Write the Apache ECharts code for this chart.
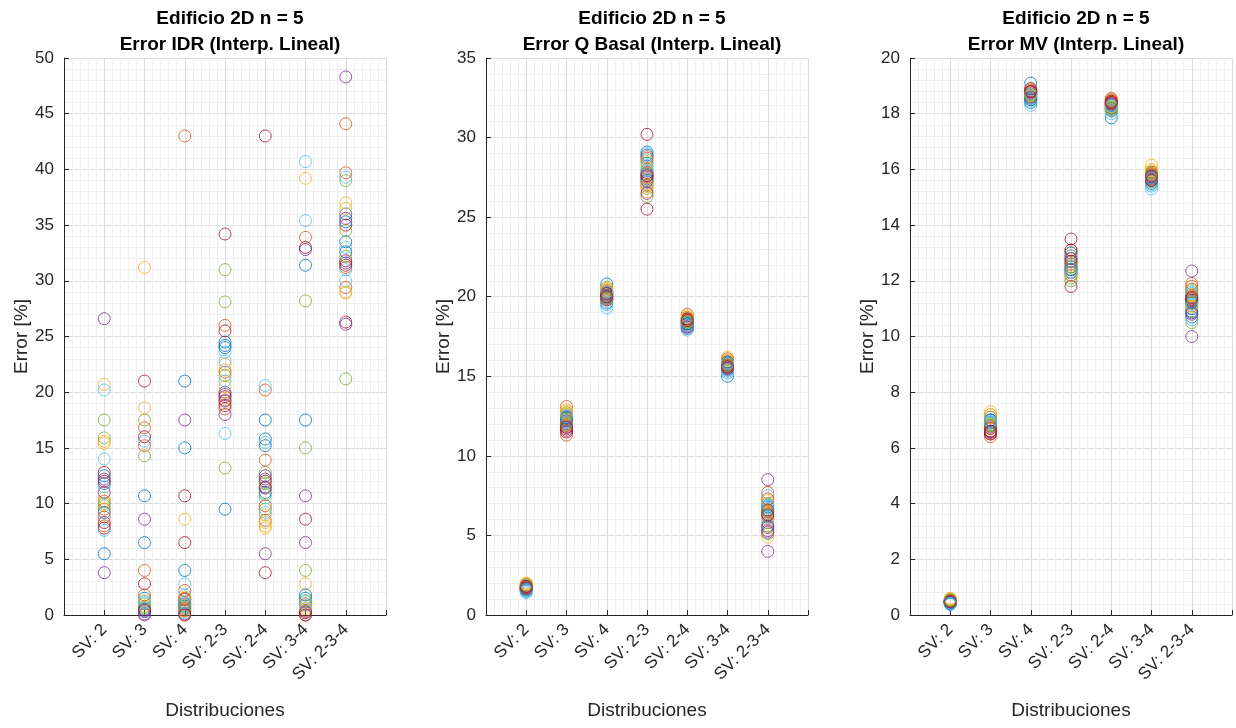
<!DOCTYPE html>
<html>
<head>
<meta charset="utf-8">
<script src="https://cdn.jsdelivr.net/npm/echarts@6/dist/echarts.min.js"></script>
<style>
html,body{margin:0;padding:0;background:#fff;}
#chart{width:1236px;height:728px;}
</style>
</head>
<body>
<div id="chart"></div>
<script>
// ---- Data ----
const categories = ['SV: 2', 'SV: 3', 'SV: 4', 'SV: 2-3', 'SV: 2-4', 'SV: 3-4', 'SV: 2-3-4'];
const titleLine1 = 'Edificio 2D n = 5';
const panelTitles = ['Error IDR (Interp. Lineal)', 'Error Q Basal (Interp. Lineal)', 'Error MV (Interp. Lineal)'];
const yTicksMax = [50, 35, 20];
const yTickStep = [5, 5, 2];

// Panel 1: Error IDR
const idr_sv2   = [5.5, 8.0, 20.7, 26.6, 17.5, 20.2, 7.8, 12.5, 9.5, 15.6, 3.8, 15.9, 14.0, 8.3, 11.8, 10.2, 10.5, 12.2, 9.8, 11.5, 12.8, 9.2, 8.8, 15.4, 11.0, 10.0, 7.6, 12.0];
const idr_sv3   = [10.7, 4.0, 31.2, 8.6, 17.5, 15.6, 21.0, 6.5, 15.2, 18.6, 0.0, 14.3, 1.2, 2.8, 1.5, 16.8, 0.8, 0.3, 1.0, 0.6, 16.0, 0.4, 1.8, 1.3, 0.1, 0.7, 1.1, 0.5];
const idr_sv4   = [21.0, 43.0, 8.6, 17.5, 1.2, 2.8, 10.7, 15.0, 2.2, 0.0, 0.6, 0.9, 1.8, 6.5, 4.0, 1.5, 0.3, 1.0, 0.5, 0.2, 1.4, 0.8, 0.4, 1.6, 0.1, 0.7, 1.1, 0.0];
const idr_sv23  = [9.5, 26.0, 22.5, 18.0, 31.0, 16.3, 34.2, 24.5, 19.3, 22.0, 20.0, 28.1, 21.0, 25.5, 24.2, 18.5, 20.5, 19.8, 13.2, 23.6, 19.6, 24.0, 21.8, 19.0, 19.2, 21.5, 22.8, 18.8];
const idr_sv24  = [17.5, 20.2, 9.0, 5.5, 12.8, 20.6, 43.0, 15.8, 13.9, 8.0, 12.5, 9.5, 15.5, 3.8, 15.2, 8.5, 7.8, 11.5, 10.8, 10.5, 12.0, 11.0, 9.8, 8.3, 12.2, 11.8, 9.2, 11.4];
const idr_sv34  = [31.4, 33.9, 39.2, 10.7, 28.2, 40.7, 33.0, 17.5, 0.0, 2.8, 6.5, 15.0, 35.4, 8.6, 1.5, 0.4, 0.8, 32.8, 4.0, 1.2, 0.2, 1.8, 1.0, 0.6, 0.3, 1.3, 0.9, 0.0];
const idr_sv234 = [36.0, 44.1, 37.0, 48.3, 39.0, 39.3, 35.0, 35.3, 39.7, 36.5, 35.6, 21.2, 30.0, 26.3, 33.5, 29.4, 29.0, 26.1, 34.5, 33.0, 31.8, 32.6, 31.2, 28.9, 31.6, 32.2, 31.0, 31.4];

// Panel 2: Error Q Basal
const qb_sv2   = [1.5, 1.8, 1.9, 1.7, 1.8, 1.4, 1.6, 1.6, 1.9, 2.0, 1.7, 1.8, 1.5, 1.6, 1.7, 1.8, 1.9, 1.6, 1.7, 1.5, 1.8, 1.6, 1.7, 2.0, 1.8, 1.9, 1.6, 1.7];
const qb_sv3   = [12.3, 13.1, 12.8, 12.1, 12.6, 11.9, 11.6, 12.0, 11.3, 12.9, 12.4, 12.7, 12.2, 11.8, 12.5, 12.0, 12.6, 11.7, 12.3, 12.1, 11.5, 12.4, 11.9, 12.7, 12.2, 12.0, 12.5, 11.8];
const qb_sv4   = [20.8, 20.2, 20.5, 19.9, 20.0, 19.3, 20.3, 19.6, 20.4, 20.1, 19.8, 20.6, 19.5, 20.0, 20.2, 20.3, 20.4, 19.9, 20.1, 19.7, 20.2, 20.0, 19.8, 20.5, 20.1, 19.9, 20.3, 20.0];
const qb_sv23  = [29.1, 28.8, 28.5, 27.4, 26.3, 28.2, 30.2, 27.7, 27.0, 26.6, 27.2, 26.8, 29.0, 25.5, 28.9, 27.5, 26.9, 27.6, 28.0, 28.6, 27.8, 27.3, 28.7, 27.1, 26.5, 28.4, 27.9, 27.6];
const qb_sv24  = [18.3, 18.9, 18.6, 18.1, 18.5, 17.9, 18.7, 18.4, 18.2, 18.8, 18.0, 18.4, 18.1, 18.6, 18.3, 18.5, 18.7, 18.2, 18.4, 18.0, 18.6, 18.3, 18.5, 18.7, 18.1, 18.4, 18.2, 18.5];
const qb_sv34  = [15.0, 15.8, 16.2, 15.6, 15.9, 15.2, 15.5, 15.7, 15.9, 16.0, 15.4, 15.8, 15.3, 15.6, 15.5, 16.1, 15.7, 15.8, 15.6, 15.4, 15.7, 15.9, 15.6, 16.0, 15.5, 15.7, 15.8, 15.6];
const qb_sv234 = [6.6, 7.7, 6.3, 8.5, 6.9, 7.5, 6.5, 6.2, 5.8, 7.2, 4.0, 7.0, 6.1, 5.5, 6.8, 6.4, 6.0, 5.3, 5.1, 6.7, 6.6, 5.6, 7.3, 4.9, 5.2, 6.5, 6.9, 6.3];

// Panel 3: Error MV
const mv_sv2   = [0.45, 0.5, 0.55, 0.48, 0.52, 0.38, 0.45, 0.42, 0.5, 0.58, 0.47, 0.53, 0.4, 0.46, 0.44, 0.5, 0.52, 0.49, 0.55, 0.43, 0.47, 0.4, 0.51, 0.6, 0.46, 0.5, 0.42, 0.48];
const mv_sv3   = [6.8, 6.5, 7.2, 6.9, 6.7, 7.0, 6.6, 6.9, 6.4, 7.3, 7.1, 6.8, 6.9, 6.5, 7.0, 6.7, 7.2, 6.6, 6.8, 6.9, 6.55, 7.0, 6.7, 7.1, 6.75, 6.85, 6.95, 6.6];
const mv_sv4   = [19.1, 18.7, 18.9, 18.8, 18.6, 18.3, 18.7, 18.4, 18.8, 18.9, 18.7, 18.5, 18.6, 18.75, 18.5, 18.85, 18.65, 18.8, 18.7, 18.45, 18.6, 18.55, 18.8, 18.7, 18.9, 18.65, 18.7, 18.8];
const mv_sv23  = [12.8, 13.1, 12.6, 12.3, 12.0, 12.5, 13.5, 12.4, 12.9, 13.0, 12.2, 12.7, 12.6, 11.8, 13.0, 12.3, 12.8, 12.5, 12.1, 12.9, 12.7, 12.4, 12.6, 12.2, 12.8, 12.5, 12.3, 13.1];
const mv_sv24  = [17.85, 18.55, 18.4, 18.2, 18.3, 18.0, 18.5, 18.3, 18.45, 18.35, 18.1, 18.25, 18.15, 18.4, 18.2, 18.3, 18.5, 18.35, 18.2, 18.1, 18.45, 18.3, 18.4, 18.25, 18.35, 18.15, 18.3, 18.4];
const mv_sv34  = [15.5, 15.8, 16.15, 15.7, 15.9, 15.3, 15.6, 15.75, 15.85, 16.0, 15.8, 15.65, 15.45, 15.7, 15.6, 15.9, 15.8, 15.75, 15.55, 15.4, 15.65, 15.7, 15.8, 15.95, 15.6, 15.85, 15.7, 15.75];
const mv_sv234 = [10.7, 11.9, 11.3, 12.35, 10.5, 11.6, 11.2, 10.9, 11.7, 11.4, 10.0, 11.5, 10.6, 11.3, 11.0, 11.8, 11.1, 10.8, 11.2, 11.55, 11.35, 11.25, 11.45, 11.05, 10.85, 11.65, 11.15, 11.4];

const panels = [
  [idr_sv2, idr_sv3, idr_sv4, idr_sv23, idr_sv24, idr_sv34, idr_sv234],
  [qb_sv2, qb_sv3, qb_sv4, qb_sv23, qb_sv24, qb_sv34, qb_sv234],
  [mv_sv2, mv_sv3, mv_sv4, mv_sv23, mv_sv24, mv_sv34, mv_sv234]
];

// ---- Styling / layout ----
const colors = ['#0072BD', '#D95319', '#EDB120', '#7E2F8E', '#77AC30', '#4DBEEE', '#A2142F'];
const font = "'Liberation Sans', Arial, Helvetica, sans-serif";
const txt = '#262626';
const gridLefts = [64, 486, 910];
const plotW = 322;

const grids = gridLefts.map(l => ({ left: l, width: plotW, top: 58, bottom: 113 }));

const xAxes = gridLefts.map((l, i) => ({
  type: 'value', gridIndex: i, min: 0, max: 8, interval: 1,
  name: 'Distribuciones', nameLocation: 'middle', nameGap: 86,
  nameTextStyle: { fontFamily: font, fontSize: 19, color: txt },
  axisLine: { show: true, onZero: false, lineStyle: { color: txt, width: 1 } },
  axisTick: { show: true, inside: true, length: 5, lineStyle: { color: txt } },
  axisLabel: {
    rotate: 45, fontFamily: font, fontSize: 17, color: txt, margin: 12,
    formatter: v => (v >= 1 && v <= 7 && Number.isInteger(v)) ? categories[v - 1] : ''
  },
  splitLine: { show: true, lineStyle: { color: '#dcdcdc', width: 1 } },
  minorTick: { show: true, splitNumber: 5, length: 0 },
  minorSplitLine: { show: true, lineStyle: { color: '#efefef', width: 1 } }
}));

const yAxes = gridLefts.map((l, i) => ({
  type: 'value', gridIndex: i, min: 0, max: yTicksMax[i], interval: yTickStep[i],
  name: 'Error [%]', nameLocation: 'middle', nameGap: 33,
  nameTextStyle: { fontFamily: font, fontSize: 19, color: txt },
  axisLine: { show: true, lineStyle: { color: txt, width: 1 } },
  axisTick: { show: true, inside: true, length: 5, lineStyle: { color: txt } },
  axisLabel: { fontFamily: font, fontSize: 17, color: txt, margin: 10 },
  splitLine: { show: true, lineStyle: { color: '#dcdcdc', width: 1 } },
  minorTick: { show: true, splitNumber: 5, length: 0 },
  minorSplitLine: { show: true, lineStyle: { color: '#efefef', width: 1 } }
}));

const series = [];
panels.forEach((cats, p) => {
  const n = cats[0].length;
  for (let i = 0; i < n; i++) {
    series.push({
      type: 'scatter', xAxisIndex: p, yAxisIndex: p,
      symbol: 'circle', symbolSize: 12,
      itemStyle: { color: 'transparent', borderColor: colors[i % colors.length], borderWidth: 1 },
      emphasis: { disabled: true },
      data: cats.map((arr, k) => [k + 1, arr[i]])
    });
  }
});

const titles = gridLefts.map((l, i) => ({
  text: titleLine1 + '\n' + panelTitles[i],
  left: l + plotW / 2, top: 1, textAlign: 'center',
  textStyle: { fontFamily: font, fontSize: 19, fontWeight: 'bold', color: '#000', lineHeight: 26 }
}));

const chart = echarts.init(document.getElementById('chart'), null, { renderer: 'canvas' });
chart.setOption({
  animation: false,
  backgroundColor: '#fff',
  title: titles,
  grid: grids,
  xAxis: xAxes,
  yAxis: yAxes,
  series: series
});
</script>
</body>
</html>
